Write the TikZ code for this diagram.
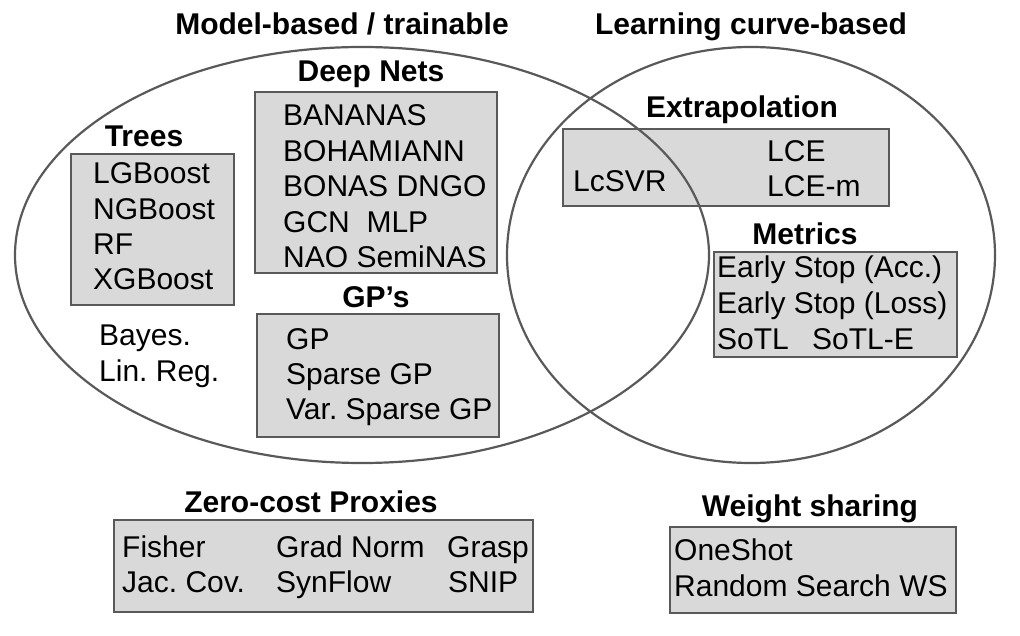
\documentclass[tikz,border=0pt]{standalone}
\usepackage{fontspec}
\setmainfont{Liberation Sans}
\usepackage{xcolor}
\definecolor{venngray}{RGB}{89,89,89}
\definecolor{boxgray}{RGB}{217,217,217}
\usepackage{tikz}
\usetikzlibrary{positioning}
\frenchspacing

\tikzset{
  vennring/.style={draw=venngray, line width=2.2pt},
  groupbox/.style={draw=venngray, line width=2pt, fill=boxgray, inner sep=0pt},
  grouptitle/.style={font=\fontsize{30}{36}\selectfont\bfseries, inner sep=0pt, anchor=base},
  member/.style={font=\fontsize{30}{36}\selectfont, inner sep=0pt, anchor=base west}
}

\begin{document}
\begin{tikzpicture}[x=1pt, y=-1pt]
  \useasboundingbox (0,0) rectangle (1020,636);

  % Boxes
  \node[groupbox, minimum width=163pt, minimum height=151pt] (treesbox) at (152.5,229.5) {};
  \node[groupbox, minimum width=242pt, minimum height=181pt] (deepbox) at (376,182.5) {};
  \node[groupbox, minimum width=242pt, minimum height=123pt] (gpbox) at (378,375.5) {};
  \node[groupbox, minimum width=326pt, minimum height=77pt] (extrabox) at (726,167.5) {};
  \node[groupbox, minimum width=243pt, minimum height=105pt] (metricbox) at (835.5,304.5) {};
  \node[groupbox, minimum width=419pt, minimum height=92pt] (zerobox) at (323.5,566) {};
  \node[groupbox, minimum width=286pt, minimum height=86pt] (wsbox) at (813,570) {};

  % Venn rings
  \draw[vennring] (362,255) ellipse (347pt and 208pt);
  \draw[vennring] (751,255) ellipse (244pt and 208pt);

  % Ring titles
  \node[grouptitle] (modeltitle) at (342,35) {Model-based / trainable};
  \node[grouptitle] (curvetitle) at (751,35) {Learning curve-based};

  % Trees
  \node[grouptitle] (treestitle) at (144,147) {Trees};
  \node[member] (lgb) at (93,184) {LGBoost};
  \node[member] (ngb) at (93,220) {NGBoost};
  \node[member] (rf) at (93,255) {RF};
  \node[member] (xgb) at (93,290) {XGBoost};

  % Deep nets
  \node[grouptitle] (deeptitle) at (371,82) {Deep Nets};
  \node[member] (bananas) at (283,126) {BANANAS};
  \node[member] (bohamiann) at (283,162) {BOHAMIANN};
  \node[member] (bonas) at (283,197) {BONAS DNGO};
  \node[member] (gcn) at (283,233) {GCN\ \ MLP};
  \node[member] (nao) at (283,268) {NAO SemiNAS};

  % GPs
  \node[grouptitle] (gptitle) at (376,308) {GP’s};
  \node[member] (gp) at (286,349) {GP};
  \node[member] (sgp) at (286,384) {Sparse GP};
  \node[member] (vsgp) at (286,419) {Var. Sparse GP};

  % Bayesian linear regression
  \node[member] (bayes) at (99,345) {Bayes.};
  \node[member] (linreg) at (99,381) {Lin. Reg.};

  % Extrapolation
  \node[grouptitle] (extratitle) at (742,118) {Extrapolation};
  \node[member] (lcsvr) at (573,192) {LcSVR};
  \node[member] (lce) at (767,162) {LCE};
  \node[member] (lcem) at (767,197) {LCE-m};

  % Metrics
  \node[grouptitle] (metrictitle) at (805,245) {Metrics};
  \node[member] (esacc) at (717,278) {Early Stop (Acc.)};
  \node[member] (esloss) at (717,313) {Early Stop (Loss)};
  \node[member] (sotl) at (717,349) {SoTL};
  \node[member] (sotle) at (812,349) {SoTL-E};

  % Zero-cost proxies
  \node[grouptitle] (zerotitle) at (311,512) {Zero-cost Proxies};
  \node[member] (fisher) at (122,557) {Fisher};
  \node[member] (jaccov) at (122,592) {Jac. Cov.};
  \node[member] (gradnorm) at (276,557) {Grad Norm};
  \node[member] (synflow) at (276,592) {SynFlow};
  \node[member] (grasp) at (447,557) {Grasp};
  \node[member] (snip) at (448,592) {SNIP};

  % Weight sharing
  \node[grouptitle] (wstitle) at (810,516) {Weight sharing};
  \node[member] (oneshot) at (674,560) {OneShot};
  \node[member] (rsws) at (674,596) {Random Search WS};
\end{tikzpicture}
\end{document}
